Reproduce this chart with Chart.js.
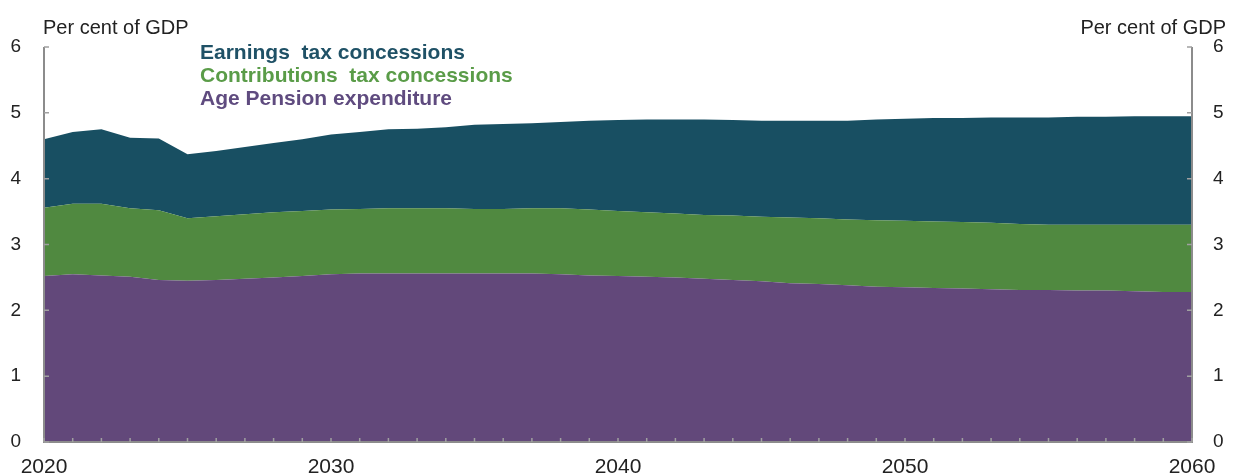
<!DOCTYPE html>
<html>
<head>
<meta charset="utf-8">
<script src="https://cdn.jsdelivr.net/npm/chart.js@4/dist/chart.umd.min.js"></script>
<style>
  body { margin: 0; background: #fff; }
  canvas { display: block; }
</style>
</head>
<body>
<canvas id="retChart" width="1238" height="475"></canvas>
<script>
// years 2020..2060
let years = [];
for (let y = 2020; y <= 2060; y++) years.push(String(y));

// per cent of GDP
let agePension = [
  2.52, 2.55, 2.53, 2.51, 2.46, 2.45, 2.46, 2.48, 2.50, 2.52,
  2.55, 2.56, 2.56, 2.56, 2.56, 2.56, 2.56, 2.56, 2.55, 2.53,
  2.52, 2.51, 2.50, 2.48, 2.46, 2.44, 2.41, 2.40, 2.38, 2.36,
  2.35, 2.34, 2.33, 2.32, 2.31, 2.31, 2.30, 2.30, 2.29, 2.28, 2.28
];
let contributions = [
  1.04, 1.07, 1.09, 1.04, 1.06, 0.95, 0.97, 0.98, 0.99, 0.99,
  0.98, 0.98, 0.99, 0.99, 0.99, 0.98, 0.98, 0.99, 1.00, 1.00,
  0.99, 0.98, 0.97, 0.97, 0.98, 0.98, 1.00, 1.00, 1.00, 1.01,
  1.01, 1.01, 1.01, 1.01, 1.00, 0.99, 1.00, 1.00, 1.01, 1.02, 1.02
];
let earnings = [
  1.04, 1.09, 1.13, 1.07, 1.09, 0.97, 0.99, 1.02, 1.05, 1.09,
  1.14, 1.17, 1.20, 1.21, 1.23, 1.28, 1.29, 1.29, 1.31, 1.35,
  1.38, 1.41, 1.43, 1.45, 1.45, 1.46, 1.47, 1.48, 1.50, 1.53,
  1.55, 1.57, 1.58, 1.60, 1.62, 1.63, 1.64, 1.64, 1.65, 1.65, 1.65
];
let yTicks = [0, 1, 2, 3, 4, 5, 6];
let xLabelYears = ['2020', '2030', '2040', '2050', '2060'];

Chart.defaults.font.family = '"Liberation Sans", Arial, sans-serif';
Chart.defaults.color = '#222';

// axis lines, small inward ticks, titles and text legend
let decor = {
  id: 'decor',
  afterDraw(chart) {
    let c = chart.ctx, a = chart.chartArea;
    let x = chart.scales.x, y = chart.scales.y;
    c.save();
    c.strokeStyle = '#8c8c8c';
    c.lineWidth = 2;
    c.beginPath();
    c.moveTo(a.left, a.top); c.lineTo(a.left, a.bottom); c.lineTo(a.right, a.bottom); c.lineTo(a.right, a.top);
    c.stroke();
    c.lineWidth = 1.5;
    c.strokeStyle = '#a0a0a0';
    c.beginPath();
    yTicks.forEach(v => {
      let py = y.getPixelForValue(v);
      c.moveTo(a.left, py); c.lineTo(a.left + 5, py);
      c.moveTo(a.right, py); c.lineTo(a.right - 5, py);
    });
    years.forEach((yr, i) => {
      let px = x.getPixelForValue(i);
      c.moveTo(px, a.bottom); c.lineTo(px, a.bottom - 4);
    });
    c.stroke();

    c.fillStyle = '#222';
    c.font = '20px "Liberation Sans", Arial';
    c.textBaseline = 'alphabetic';
    c.textAlign = 'left';
    c.fillText('Per cent of GDP', 43, 34);
    c.textAlign = 'right';
    c.fillText('Per cent of GDP', 1226, 34);

    c.textAlign = 'left';
    c.textBaseline = 'middle';
    c.font = 'bold 21px "Liberation Sans", Arial';
    chart.data.datasets.slice().reverse().forEach((ds, i) => {
      c.fillStyle = ds.labelColor;
      c.fillText(ds.label, 200, 53 + i * 23);
    });
    c.restore();
  }
};

let ctx = document.getElementById('retChart').getContext('2d');
let retChart = new Chart(ctx, {
  type: 'line',
  data: {
    labels: years,
    datasets: [
      {
        label: 'Age Pension expenditure',
        data: agePension,
        backgroundColor: '#62487a',
        labelColor: '#5f4b7f',
        fill: 'origin'
      },
      {
        label: 'Contributions  tax concessions',
        data: contributions,
        backgroundColor: '#508940',
        labelColor: '#5a9c48',
        fill: '-1'
      },
      {
        label: 'Earnings  tax concessions',
        data: earnings,
        backgroundColor: '#184f62',
        labelColor: '#1f5166',
        fill: '-1'
      }
    ]
  },
  options: {
    responsive: false,
    animation: false,
    elements: {
      point: { radius: 0 },
      line: { borderWidth: 0, tension: 0 }
    },
    layout: { padding: { top: 47, left: 0, right: 0, bottom: 0 } },
    plugins: {
      legend: { display: false },
      tooltip: { enabled: false }
    },
    scales: {
      x: {
        grid: { display: false },
        border: { display: false },
        ticks: {
          autoSkip: false,
          maxRotation: 0,
          padding: 5,
          font: { size: 21 },
          callback: function (v) {
            let l = this.getLabelForValue(v);
            return xLabelYears.includes(l) ? l : '';
          }
        },
        afterFit(s) { s.height = 33; }
      },
      y: {
        stacked: true,
        min: 0, max: 6,
        grid: { display: false },
        border: { display: false },
        ticks: { stepSize: 1, padding: 15, font: { size: 19 } },
        afterFit(s) { s.width = 44; }
      },
      y2: {
        position: 'right',
        min: 0, max: 6,
        grid: { display: false },
        border: { display: false },
        ticks: { stepSize: 1, padding: 13, font: { size: 19 } },
        afterFit(s) { s.width = 46; }
      }
    }
  },
  plugins: [decor]
});
</script>
</body>
</html>
